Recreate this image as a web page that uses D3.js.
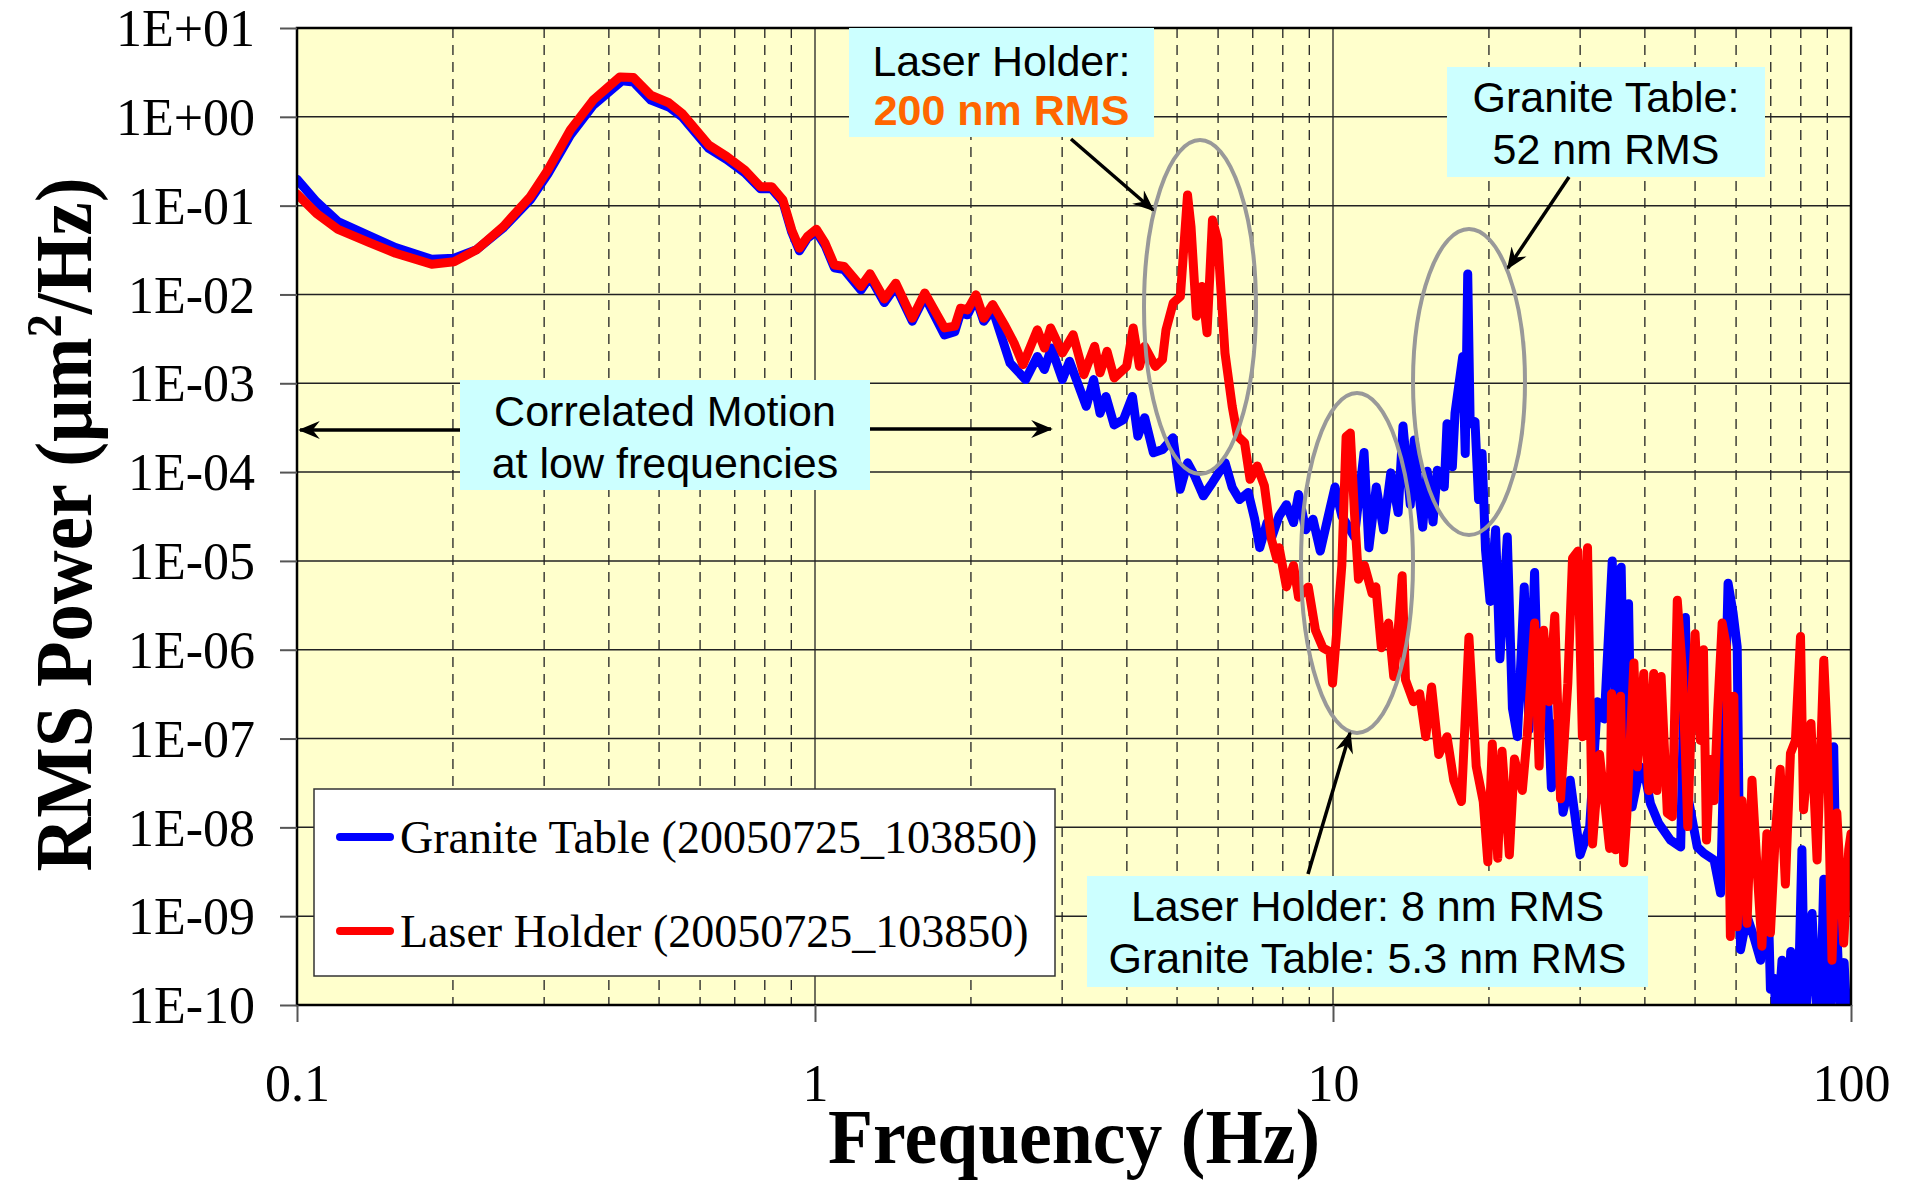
<!DOCTYPE html>
<html>
<head>
<meta charset="utf-8">
<script src="https://cdn.jsdelivr.net/npm/d3@7"></script>
<style>
    body { margin: 0; background: #fff; }
</style>
</head>
<body>
<div id="chart"></div>
<script>
// [frequency Hz, RMS power um^2/Hz]
const graniteTable = [
    [0.100, 1.98e-1], [0.109, 1.11e-1], [0.120, 6.6e-2], [0.138, 4.56e-2], [0.155, 3.37e-2],
    [0.182, 2.49e-2], [0.201, 2.56e-2], [0.222, 3.18e-2], [0.250, 5.6e-2], [0.282, 1.16e-1],
    [0.305, 2.27e-1], [0.337, 6.2e-1], [0.373, 1.35], [0.424, 2.54], [0.446, 2.47],
    [0.482, 1.54], [0.522, 1.29], [0.554, 1.0], [0.624, 4.4e-1], [0.676, 3.3e-1],
    [0.732, 2.34e-1], [0.785, 1.55e-1], [0.825, 1.55e-1], [0.867, 1.1e-1], [0.902, 5.0e-2],
    [0.933, 3.1e-2], [0.967, 4.3e-2], [1.006, 5.1e-2], [1.046, 3.55e-2], [1.09, 2.0e-2],
    [1.138, 1.9e-2], [1.227, 1.12e-2], [1.277, 1.58e-2], [1.361, 8.1e-3], [1.432, 1.23e-2],
    [1.541, 5.0e-3], [1.629, 9.5e-3], [1.778, 3.5e-3], [1.862, 3.8e-3], [1.910, 6.2e-3],
    [1.97, 5.9e-3], [2.045, 9.1e-3], [2.117, 5.0e-3], [2.203, 6.8e-3], [2.38, 1.69e-3],
    [2.55, 1.1e-3], [2.687, 2.0e-3], [2.773, 1.43e-3], [2.86, 2.5e-3], [3.003, 1.1e-3],
    [3.10, 1.77e-3], [3.34, 5.5e-4], [3.45, 1.1e-3], [3.55, 4.6e-4], [3.645, 7.1e-4],
    [3.78, 3.4e-4], [3.94, 3.9e-4], [4.10, 7.1e-4], [4.20, 2.54e-4], [4.33, 4.1e-4],
    [4.50, 1.65e-4], [4.69, 1.8e-4], [4.91, 2.43e-4], [5.07, 6.4e-5], [5.24, 1.27e-4],
    [5.41, 9.0e-5], [5.62, 5.4e-5], [5.85, 7.6e-5], [6.19, 1.27e-4], [6.39, 6.7e-5],
    [6.60, 4.9e-5], [6.86, 5.9e-5], [7.06, 2.95e-5], [7.22, 1.41e-5], [7.46, 2.7e-5],
    [7.62, 1.86e-5], [7.87, 3.2e-5], [8.13, 4.3e-5], [8.39, 2.7e-5], [8.58, 5.6e-5],
    [8.86, 2.24e-5], [9.15, 2.95e-5], [9.45, 1.29e-5], [9.76, 2.95e-5], [10.09, 6.8e-5],
    [10.4, 3.2e-5], [10.7, 2.45e-5], [11.0, 1.86e-5], [11.48, 1.66e-4], [11.73, 1.41e-5],
    [12.12, 6.8e-5], [12.52, 2.24e-5], [12.93, 9.8e-5], [13.36, 3.5e-5], [13.65, 3.3e-4],
    [14.1, 4.3e-5], [14.35, 2.3e-4], [14.6, 6.8e-5], [14.9, 2.4e-5], [15.2, 1.02e-4],
    [15.6, 2.75e-5], [15.9, 1.05e-4], [16.4, 6.8e-5], [16.6, 3.5e-4], [17.0, 1.15e-4],
    [17.2, 4.6e-4], [17.8, 2.0e-3], [18.0, 1.62e-4], [18.2, 1.7e-2], [18.4, 3.5e-4],
    [18.8, 3.7e-4], [19.1, 4.9e-5], [19.4, 1.62e-4], [19.7, 1.32e-5], [20.1, 3.5e-6],
    [20.6, 2.24e-5], [21.0, 7.9e-7], [21.7, 1.86e-5], [22.2, 2.2e-7], [22.7, 1.05e-7],
    [23.4, 5.1e-6], [23.9, 1.26e-7], [24.5, 7.4e-6], [25.0, 1.05e-7], [25.8, 6.6e-7],
    [26.4, 2.8e-8], [27.0, 1.51e-7], [27.8, 1.48e-8], [28.7, 3.4e-8], [30.0, 4.9e-9],
    [31.3, 1.02e-8], [32.4, 2.6e-7], [33.4, 1.66e-7], [34.6, 1.0e-5], [35.3, 4.1e-8],
    [36.0, 8.5e-6], [36.7, 2.0e-8], [37.2, 3.3e-6], [37.8, 1.7e-8], [39.2, 4.8e-8],
    [40.1, 3.7e-8], [41.0, 1.86e-8], [42.5, 1.12e-8], [44.8, 7.2e-9], [46.9, 6.0e-9],
    [47.9, 2.3e-6], [48.6, 2.0e-8], [50.5, 6.0e-9], [52.0, 5.1e-9], [54.4, 4.3e-9],
    [56.0, 1.82e-9], [57.9, 5.6e-6], [59.2, 2.6e-6], [60.3, 1.07e-6], [61.2, 4.2e-10],
    [63.0, 1.0e-9], [64.9, 5.9e-10], [66.9, 3.2e-10], [68.8, 5.6e-9], [69.9, 1.5e-10],
    [71.0, 2.0e-10], [72.0, 5e-11], [73.6, 3.2e-10], [74.5, 1.5e-10], [75.4, 5e-11],
    [76.5, 4.0e-10], [77.5, 2.7e-10], [79.0, 8e-11], [80.4, 5.6e-9], [81.5, 5e-11],
    [82.8, 3.0e-10], [84.1, 1.07e-9], [86.2, 5e-11], [87.5, 1.5e-10], [88.6, 2.6e-9],
    [90.8, 5e-11], [91.8, 2.0e-10], [92.6, 8.1e-8], [94.0, 6.0e-10], [95.6, 5e-11],
    [97.0, 3.0e-10], [98.5, 5e-11], [100, 5e-11]
];

const laserHolder = [
    [0.100, 1.35e-1], [0.109, 8.2e-2], [0.120, 5.4e-2], [0.138, 3.84e-2], [0.155, 2.91e-2],
    [0.182, 2.19e-2], [0.201, 2.33e-2], [0.222, 3.18e-2], [0.250, 5.8e-2], [0.282, 1.26e-1],
    [0.305, 2.52e-1], [0.337, 7.1e-1], [0.373, 1.54], [0.420, 2.81], [0.446, 2.77],
    [0.482, 1.75], [0.522, 1.44], [0.554, 1.09], [0.624, 4.8e-1], [0.676, 3.56e-1],
    [0.732, 2.52e-1], [0.785, 1.63e-1], [0.825, 1.63e-1], [0.867, 1.16e-1], [0.902, 5.3e-2],
    [0.933, 3.32e-2], [0.967, 4.49e-2], [1.006, 5.42e-2], [1.046, 3.78e-2], [1.09, 2.15e-2],
    [1.138, 2.07e-2], [1.227, 1.23e-2], [1.277, 1.71e-2], [1.361, 8.9e-3], [1.432, 1.34e-2],
    [1.541, 5.4e-3], [1.629, 1.04e-2], [1.778, 4.2e-3], [1.862, 4.4e-3], [1.910, 7.0e-3],
    [1.97, 6.7e-3], [2.045, 9.9e-3], [2.117, 5.4e-3], [2.203, 7.7e-3], [2.329, 4.4e-3],
    [2.423, 2.84e-3], [2.521, 1.62e-3], [2.687, 4.0e-3], [2.773, 2.49e-3], [2.85, 4.2e-3],
    [3.003, 2.19e-3], [3.150, 3.52e-3], [3.304, 1.25e-3], [3.465, 2.61e-3], [3.55, 1.31e-3],
    [3.663, 2.29e-3], [3.781, 1.15e-3], [3.997, 1.55e-3], [4.114, 4.2e-3], [4.23, 1.55e-3],
    [4.328, 2.61e-3], [4.539, 1.55e-3], [4.686, 1.85e-3], [4.76, 4.0e-3], [4.914, 8.0e-3],
    [5.074, 9.5e-3], [5.238, 1.32e-1], [5.32, 5.8e-2], [5.450, 5.7e-3], [5.581, 1.23e-2],
    [5.713, 3.7e-3], [5.852, 6.9e-2], [5.99, 4.1e-2], [6.187, 2.19e-3], [6.389, 5.5e-4],
    [6.543, 2.54e-4], [6.75, 2.14e-4], [6.917, 8.3e-5], [7.14, 1.17e-4], [7.372, 7.0e-5],
    [7.607, 1.75e-5], [7.79, 1.05e-5], [7.87, 1.41e-5], [8.13, 5.1e-6], [8.39, 8.9e-6],
    [8.58, 3.9e-6], [8.96, 5.1e-6], [9.25, 1.66e-6], [9.56, 1.05e-6], [9.87, 9.5e-7],
    [9.98, 4.2e-7], [10.2, 2.0e-6], [10.4, 8.9e-6], [10.6, 2.5e-4], [10.8, 2.75e-4],
    [11.0, 3.5e-5], [11.2, 6.2e-6], [11.5, 8.9e-6], [11.9, 4.3e-6], [12.1, 5.1e-6],
    [12.4, 1.05e-6], [12.8, 2.0e-6], [13.1, 5.0e-7], [13.36, 1.66e-6], [13.6, 6.8e-6],
    [13.8, 4.6e-7], [14.3, 2.6e-7], [14.7, 3.2e-7], [15.1, 1.05e-7], [15.5, 3.8e-7],
    [16.0, 6.6e-8], [16.6, 1.05e-7], [17.1, 3.4e-8], [17.7, 1.95e-8], [18.3, 1.38e-6],
    [18.9, 4.9e-8], [19.5, 1.95e-8], [19.9, 4.1e-9], [20.3, 8.7e-8], [20.8, 4.5e-9],
    [21.2, 7.2e-8], [21.9, 4.9e-9], [22.4, 5.9e-8], [23.2, 2.6e-8], [23.7, 1.05e-7],
    [24.5, 2.0e-6], [25.0, 4.9e-8], [25.5, 1.66e-6], [26.1, 2.6e-7], [26.8, 2.4e-6],
    [27.5, 2.1e-8], [28.4, 4.2e-7], [29.0, 1.07e-5], [29.7, 1.29e-5], [30.3, 1.05e-7],
    [31.0, 1.41e-5], [31.7, 6.5e-9], [32.7, 6.6e-8], [34.2, 5.8e-9], [34.5, 3.2e-7],
    [35.1, 5.6e-9], [35.9, 3.0e-7], [36.4, 4.0e-9], [36.9, 1.32e-8], [38.1, 7.1e-7],
    [38.7, 4.8e-8], [39.8, 5.4e-7], [40.7, 2.6e-8], [41.6, 5.4e-7], [42.2, 2.6e-8],
    [43.0, 5.0e-7], [44.2, 1.45e-8], [45.2, 1.32e-8], [46.2, 3.6e-6], [47.2, 6.5e-7],
    [47.9, 6.8e-8], [48.4, 1.02e-8], [49.4, 3.8e-7], [50.0, 1.51e-6], [51.2, 9.5e-8],
    [51.9, 1.0e-6], [52.6, 7.2e-9], [53.5, 5.8e-8], [54.4, 2.0e-8], [55.3, 2.1e-7],
    [56.4, 2.0e-6], [57.5, 1.07e-6], [58.5, 5.9e-10], [59.4, 3.0e-7], [60.3, 7.6e-10],
    [61.6, 2.0e-8], [63.0, 8.3e-10], [64.4, 3.4e-8], [65.9, 3.3e-9], [67.3, 4.6e-10],
    [68.8, 8.5e-9], [69.9, 6.5e-10], [71.4, 7.9e-9], [73.0, 4.5e-8], [74.7, 2.3e-9],
    [76.4, 6.8e-8], [78.1, 9.5e-8], [79.9, 1.41e-6], [81.0, 1.58e-8], [83.7, 1.48e-7],
    [86.0, 4.3e-9], [88.6, 7.6e-7], [89.9, 1.15e-7], [91.9, 3.2e-10], [93.9, 1.45e-8],
    [96.8, 5.0e-10], [99.0, 5.6e-9], [100, 8.5e-9]
];

const seriesNames = ["Granite Table (20050725_103850)", "Laser Holder (20050725_103850)"];
const xTicks = [0.1, 1, 10, 100];
const yTicks = [1e1, 1e0, 1e-1, 1e-2, 1e-3, 1e-4, 1e-5, 1e-6, 1e-7, 1e-8, 1e-9, 1e-10];

const SERIF = "'Liberation Serif', 'Times New Roman', serif";
const SANS = "'Liberation Sans', Arial, sans-serif";

class PsdChart {
    constructor(selector) {
        this.selector = selector;
        this.margin = { top: 28, right: 59, bottom: 177, left: 297 };
        this.width = 1910 - this.margin.left - this.margin.right;
        this.height = 1182 - this.margin.top - this.margin.bottom;
        this.series = [];
    }

    addSeries(serie) {
        this.series = [...this.series, serie];
    }

    createCanvas() {
        const root = d3.select(this.selector).append("svg")
            .attr("width", 1910)
            .attr("height", 1182);
        this.defs = root.append("defs");
        this.defs.append("clipPath").attr("id", "plot-clip")
            .append("rect").attr("width", this.width).attr("height", this.height);
        this.defs.append("marker")
            .attr("id", "head")
            .attr("viewBox", "0 0 12 10")
            .attr("refX", 11).attr("refY", 5)
            .attr("markerUnits", "userSpaceOnUse")
            .attr("markerWidth", 24).attr("markerHeight", 18)
            .attr("orient", "auto")
            .append("path")
            .attr("d", "M0,0 L12,5 L0,10 L4,5 Z")
            .attr("fill", "#000");
        return root.append("g")
            .attr("transform", "translate(" + this.margin.left + "," + this.margin.top + ")");
    }

    renderGrid(svg, x, y) {
        svg.append("rect")
            .attr("width", this.width).attr("height", this.height)
            .attr("fill", "#ffffcc");

        const minors = [];
        [0.1, 1, 10].forEach(d => { for (let k = 2; k <= 9; k++) minors.push(d * k); });

        svg.append("g").selectAll("line")
            .data(minors).enter().append("line")
            .attr("x1", d => x(d)).attr("x2", d => x(d))
            .attr("y1", 0).attr("y2", this.height)
            .attr("stroke", "#222").attr("stroke-width", 1.3)
            .attr("stroke-dasharray", "10,7");

        svg.append("g").selectAll("line")
            .data([1, 10]).enter().append("line")
            .attr("x1", d => x(d)).attr("x2", d => x(d))
            .attr("y1", 0).attr("y2", this.height)
            .attr("stroke", "#222").attr("stroke-width", 1.3);

        svg.append("g").selectAll("line")
            .data(yTicks.slice(1, -1)).enter().append("line")
            .attr("x1", 0).attr("x2", this.width)
            .attr("y1", d => y(d)).attr("y2", d => y(d))
            .attr("stroke", "#222").attr("stroke-width", 1.5);
    }

    renderAxes(svg, x, y) {
        const fmt = v => {
            const p = Math.round(Math.log10(v));
            return "1E" + (p >= 0 ? "+" : "-") + String(Math.abs(p)).padStart(2, "0");
        };

        const yAxis = svg.append("g")
            .call(d3.axisLeft(y).tickValues(yTicks).tickFormat(fmt).tickSize(17).tickPadding(25));
        yAxis.select(".domain").remove();
        yAxis.selectAll("line").attr("stroke", "#555").attr("stroke-width", 2);
        yAxis.selectAll("text")
            .attr("font-family", SERIF).attr("font-size", 52).attr("fill", "#000")
            .attr("dy", "0.34em");

        const xAxis = svg.append("g")
            .attr("transform", "translate(0," + this.height + ")")
            .call(d3.axisBottom(x).tickValues(xTicks).tickFormat(d => String(d)).tickSize(17));
        xAxis.select(".domain").remove();
        xAxis.selectAll("line").attr("stroke", "#555").attr("stroke-width", 2);
        xAxis.selectAll("text")
            .attr("font-family", SERIF).attr("font-size", 52).attr("fill", "#000")
            .attr("y", 96).attr("dy", 0);

        svg.append("text")
            .attr("x", this.width / 2).attr("y", 1163 - this.margin.top)
            .attr("text-anchor", "middle")
            .attr("font-family", SERIF).attr("font-weight", "bold").attr("font-size", 78)
            .attr("textLength", 492).attr("lengthAdjust", "spacingAndGlyphs")
            .text("Frequency (Hz)");

        const yl = svg.append("text")
            .attr("transform", "translate(" + (91 - this.margin.left) + "," + (this.height / 2 + 8) + ") rotate(-90)")
            .attr("text-anchor", "middle")
            .attr("font-family", SERIF).attr("font-weight", "bold").attr("font-size", 80)
            .attr("textLength", 694).attr("lengthAdjust", "spacingAndGlyphs");
        yl.append("tspan").text("RMS Power (\u03bcm");
        yl.append("tspan").attr("font-size", 50).attr("dy", -30).text("2");
        yl.append("tspan").attr("dy", 30).text("/Hz)");
    }

    renderLine(svg, serie, x, y) {
        const line = d3.line()
            .x(d => x(d[0]))
            .y(d => y(d[1]));
        svg.append("path")
            .datum(serie.data)
            .attr("clip-path", "url(#plot-clip)")
            .attr("fill", "none")
            .attr("stroke", serie.color)
            .attr("stroke-width", 9)
            .attr("stroke-linejoin", "round")
            .attr("stroke-linecap", "round")
            .attr("d", line);
    }

    renderNote(svg, box, lines) {
        svg.append("rect")
            .attr("x", box[0]).attr("y", box[1])
            .attr("width", box[2]).attr("height", box[3])
            .attr("fill", "#ccffff");
        lines.forEach(l => {
            svg.append("text")
                .attr("x", box[0] + box[2] / 2).attr("y", l.y)
                .attr("text-anchor", "middle")
                .attr("font-family", SANS).attr("font-size", 43)
                .attr("font-weight", l.bold ? "bold" : "normal")
                .attr("fill", l.color || "#000")
                .text(l.text);
        });
    }

    renderArrow(svg, x1, y1, x2, y2) {
        svg.append("line")
            .attr("x1", x1).attr("y1", y1).attr("x2", x2).attr("y2", y2)
            .attr("stroke", "#000").attr("stroke-width", 3.5)
            .attr("marker-end", "url(#head)");
    }

    renderAnnotations(svg) {
        const ox = this.margin.left, oy = this.margin.top;
        const g = svg.append("g").attr("transform", "translate(" + (-ox) + "," + (-oy) + ")");

        this.renderNote(g, [849, 28, 305, 109], [
            { text: "Laser Holder:", y: 76 },
            { text: "200 nm RMS", y: 125, bold: true, color: "#ff6600" }
        ]);
        this.renderNote(g, [1447, 67, 318, 110], [
            { text: "Granite Table:", y: 112 },
            { text: "52 nm RMS", y: 164 }
        ]);
        this.renderNote(g, [460, 380, 410, 110], [
            { text: "Correlated Motion", y: 426 },
            { text: "at low frequencies", y: 478 }
        ]);
        this.renderNote(g, [1087, 876, 561, 111], [
            { text: "Laser Holder: 8 nm RMS", y: 921 },
            { text: "Granite Table: 5.3 nm RMS", y: 973 }
        ]);

        [[1200, 307, 56, 167], [1357, 563, 56, 170], [1469, 382, 56, 153]].forEach(e => {
            g.append("ellipse")
                .attr("cx", e[0]).attr("cy", e[1]).attr("rx", e[2]).attr("ry", e[3])
                .attr("fill", "none").attr("stroke", "#999").attr("stroke-width", 4);
        });

        this.renderArrow(g, 460, 430, 300, 430);
        this.renderArrow(g, 870, 429, 1051, 429);
        this.renderArrow(g, 1071, 139, 1153, 210);
        this.renderArrow(g, 1569, 177, 1508, 268);
        this.renderArrow(g, 1308, 874, 1350, 733);
    }

    renderLegend(svg) {
        const oy = this.margin.top;
        const g = svg.append("g").attr("transform", "translate(17," + (789 - oy) + ")");
        g.append("rect")
            .attr("width", 741).attr("height", 187)
            .attr("fill", "#fff").attr("stroke", "#333").attr("stroke-width", 1.5);
        const rows = g.selectAll(".row").data(this.series).enter().append("g")
            .attr("transform", (_, i) => "translate(0," + (48 + i * 94) + ")");
        rows.append("line")
            .attr("x1", 26).attr("x2", 76)
            .attr("stroke", d => d.color).attr("stroke-width", 8)
            .attr("stroke-linecap", "round");
        rows.append("text")
            .attr("x", 86).attr("y", 16)
            .attr("font-family", SERIF).attr("font-size", 46).attr("fill", "#000")
            .text(d => d.name);
    }

    build() {
        const svg = this.createCanvas();

        const x = d3.scaleLog().domain([0.1, 100]).range([0, this.width]);
        const y = d3.scaleLog().domain([1e-10, 1e1]).range([this.height, 0]);

        this.renderGrid(svg, x, y);
        for (const serie of this.series) {
            this.renderLine(svg, serie, x, y);
        }

        svg.append("rect")
            .attr("width", this.width).attr("height", this.height)
            .attr("fill", "none").attr("stroke", "#000").attr("stroke-width", 2.5);

        this.renderAxes(svg, x, y);
        this.renderAnnotations(svg);
        this.renderLegend(svg);
    }
}

const chart = new PsdChart("#chart");
chart.addSeries({ name: seriesNames[0], color: "#0000ff", data: graniteTable });
chart.addSeries({ name: seriesNames[1], color: "#ff0000", data: laserHolder });
chart.build();
</script>
</body>
</html>
